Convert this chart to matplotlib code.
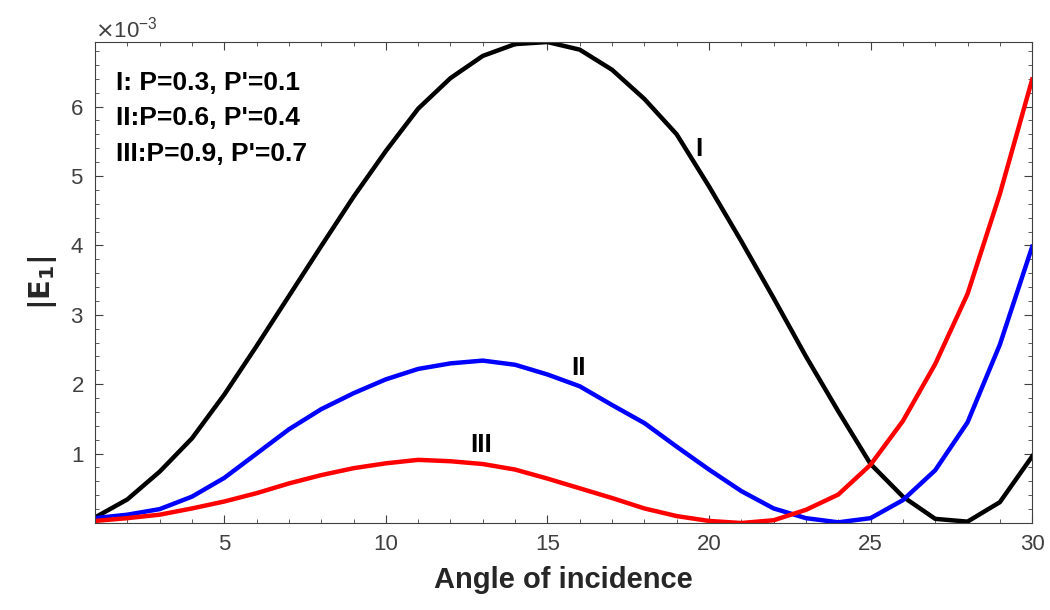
import numpy as np
import matplotlib.pyplot as plt
from matplotlib.ticker import ScalarFormatter, MultipleLocator

plt.rcParams['font.family'] = ['Liberation Sans', 'DejaVu Sans']

angle = np.arange(1, 31)

# |E1| for the three cases, values in units of 1e-3
e1_I = [0.08, 0.34, 0.74, 1.22, 1.85, 2.55, 3.27, 3.99, 4.70, 5.36,
        5.97, 6.41, 6.73, 6.90, 6.93, 6.82, 6.53, 6.11, 5.60, 4.85,
        4.06, 3.24, 2.40, 1.61, 0.85, 0.38, 0.06, 0.02, 0.30, 0.96]
e1_II = [0.07, 0.12, 0.20, 0.38, 0.65, 1.00, 1.35, 1.64, 1.87, 2.07,
         2.22, 2.30, 2.34, 2.28, 2.14, 1.97, 1.70, 1.44, 1.10, 0.77,
         0.46, 0.21, 0.07, 0.01, 0.07, 0.33, 0.76, 1.45, 2.57, 3.98]
e1_III = [0.03, 0.07, 0.12, 0.21, 0.31, 0.43, 0.57, 0.69, 0.79, 0.86,
          0.91, 0.89, 0.85, 0.77, 0.64, 0.50, 0.36, 0.21, 0.10, 0.03,
          0.00, 0.04, 0.19, 0.41, 0.84, 1.47, 2.29, 3.30, 4.74, 6.39]

scale = 1e-3
e1_I = np.array(e1_I) * scale
e1_II = np.array(e1_II) * scale
e1_III = np.array(e1_III) * scale

fig = plt.figure(figsize=(10.5, 6.1), dpi=100)
ax = fig.add_axes([0.0905, 0.1426, 0.8925, 0.7885])

ax.plot(angle, e1_I, color='black', lw=3.2)
ax.plot(angle, e1_II, color='#0000ff', lw=3.2)
ax.plot(angle, e1_III, color='#ff0000', lw=3.2)

ax.set_xlim(1, 30)
ax.set_ylim(0, 6.93e-3)
ax.set_xticks([5, 10, 15, 20, 25, 30])
ax.set_yticks(np.arange(1, 7) * scale)
ax.xaxis.set_minor_locator(MultipleLocator(1))
ax.yaxis.set_minor_locator(MultipleLocator(0.2e-3))

fmt = ScalarFormatter(useMathText=True)
fmt.set_powerlimits((0, 0))
ax.yaxis.set_major_formatter(fmt)
ax.yaxis.get_offset_text().set_fontsize(16)
ax.yaxis.get_offset_text().set_color('#404040')

ax.tick_params(which='both', direction='in', top=True, right=True,
               colors='#404040', labelsize=16)
ax.tick_params(which='major', length=6, pad=8)
ax.tick_params(which='minor', length=3)
for s in ax.spines.values():
    s.set_color('#404040')

ax.set_xlabel('Angle of incidence', fontsize=21, fontweight='bold',
              color='#262626', labelpad=8)
ax.set_ylabel(r'$\mathbf{|E_1|}$', fontsize=21, color='#262626', labelpad=8)

ax.text(0.022, 0.915, "I: P=0.3, P'=0.1", transform=ax.transAxes,
        fontsize=19, fontweight='bold', va='center')
ax.text(0.022, 0.843, "II:P=0.6, P'=0.4", transform=ax.transAxes,
        fontsize=19, fontweight='bold', va='center')
ax.text(0.022, 0.768, "III:P=0.9, P'=0.7", transform=ax.transAxes,
        fontsize=19, fontweight='bold', va='center')

ax.text(19.7, 5.39e-3, 'I', fontsize=19, fontweight='bold', ha='center', va='center')
ax.text(15.95, 2.23e-3, 'II', fontsize=19, fontweight='bold', ha='center', va='center')
ax.text(12.95, 1.13e-3, 'III', fontsize=19, fontweight='bold', ha='center', va='center')

fig.savefig('out.png', dpi=100)
